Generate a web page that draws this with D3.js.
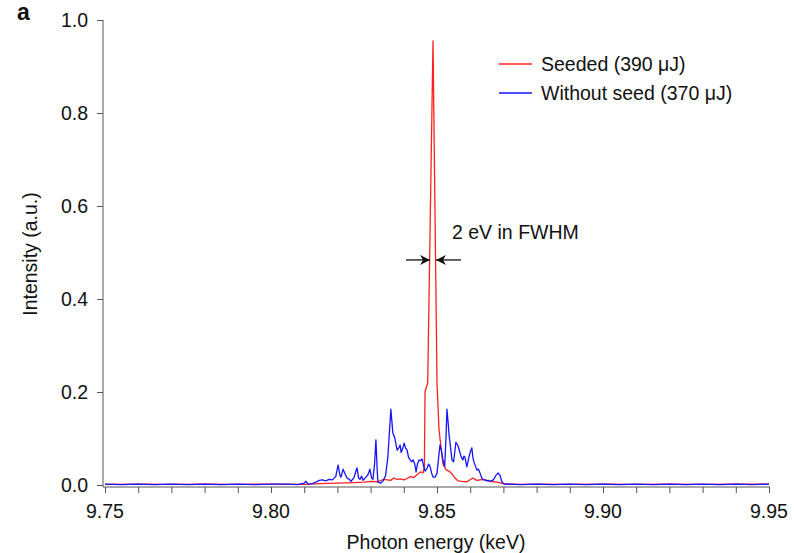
<!DOCTYPE html>
<html>
<head>
<meta charset="utf-8">
<script src="https://cdn.jsdelivr.net/npm/d3@7"></script>
<style>
  body { margin: 0; background: #fff; }
  text { font-family: "Liberation Sans", Arial, sans-serif; }
</style>
</head>
<body>
<div id="chart"></div>
<script>
// spectra: [photon energy keV, intensity a.u.]
const blue = [
  [9.750,0.002],[9.755,0.001],[9.760,0.002],[9.765,0.001],[9.770,0.002],[9.775,0.001],
  [9.780,0.002],[9.785,0.001],[9.790,0.002],[9.795,0.001],[9.800,0.002],[9.805,0.002],
  [9.808,0.001],[9.8100,0.004],[9.8105,0.008],[9.8112,0.002],[9.8125,0.003],[9.8135,0.006],
  [9.8145,0.010],[9.8155,0.011],[9.8165,0.009],[9.8175,0.012],[9.8185,0.011],[9.8195,0.018],
  [9.8202,0.043],[9.8208,0.020],[9.8211,0.017],[9.8217,0.034],[9.8223,0.024],[9.8229,0.015],
  [9.8236,0.012],[9.8241,0.008],[9.8250,0.016],[9.8259,0.037],[9.8264,0.015],[9.8268,0.012],
  [9.8273,0.019],[9.8277,0.010],[9.8282,0.014],[9.8286,0.017],[9.8292,0.022],[9.8298,0.034],
  [9.8303,0.015],[9.8307,0.012],[9.8312,0.045],[9.8316,0.097],[9.8320,0.030],[9.8322,0.006],
  [9.8330,0.004],[9.8337,0.008],[9.8345,0.020],[9.8352,0.060],[9.8361,0.163],[9.8367,0.112],
  [9.8373,0.101],[9.8377,0.085],[9.8380,0.075],[9.8385,0.080],[9.8389,0.086],[9.8392,0.070],
  [9.8395,0.075],[9.8398,0.082],[9.8401,0.090],[9.8405,0.080],[9.8410,0.075],[9.8414,0.060],
  [9.8419,0.054],[9.8424,0.050],[9.8428,0.054],[9.8433,0.045],[9.8437,0.028],[9.8441,0.045],
  [9.8446,0.054],[9.8450,0.052],[9.8455,0.056],[9.8460,0.040],[9.8464,0.030],[9.8470,0.036],
  [9.8475,0.045],[9.8479,0.040],[9.8484,0.025],[9.8488,0.017],[9.8494,0.017],[9.8500,0.025],
  [9.8505,0.060],[9.8509,0.086],[9.8513,0.075],[9.8518,0.054],[9.8523,0.040],[9.8527,0.100],
  [9.8530,0.163],[9.8534,0.130],[9.8536,0.110],[9.8541,0.080],[9.8545,0.054],[9.8550,0.050],
  [9.8557,0.092],[9.8563,0.085],[9.8569,0.070],[9.8573,0.060],[9.8578,0.054],[9.8581,0.062],
  [9.8584,0.060],[9.8590,0.039],[9.8596,0.060],[9.8600,0.070],[9.8605,0.080],[9.8608,0.060],
  [9.8611,0.050],[9.8616,0.040],[9.8620,0.032],[9.8625,0.034],[9.8630,0.025],[9.8635,0.015],
  [9.8639,0.011],[9.8645,0.011],[9.8650,0.009],[9.8655,0.010],[9.8660,0.008],[9.8670,0.011],
  [9.8677,0.020],[9.8684,0.026],[9.8690,0.020],[9.8696,0.006],[9.8702,0.002],[9.875,0.001],
  [9.880,0.002],[9.885,0.001],[9.890,0.002],[9.895,0.001],[9.900,0.002],[9.905,0.001],
  [9.910,0.002],[9.915,0.001],[9.920,0.002],[9.925,0.001],[9.930,0.002],[9.935,0.001],
  [9.940,0.002],[9.945,0.001],[9.950,0.002]
]
const red = [
  [9.750,0.0015],[9.760,0.002],[9.770,0.0015],[9.780,0.002],[9.790,0.0015],[9.800,0.002],
  [9.810,0.0015],[9.8150,0.003],[9.8200,0.004],[9.8250,0.005],[9.8280,0.006],[9.8300,0.008],
  [9.8320,0.007],[9.8340,0.012],[9.8360,0.010],[9.8370,0.015],[9.8380,0.012],[9.8390,0.013],
  [9.8400,0.011],[9.8410,0.014],[9.8420,0.018],[9.8430,0.016],[9.8440,0.022],[9.8450,0.028],
  [9.8458,0.026],[9.8462,0.040],[9.8464,0.200],[9.8470,0.215],[9.8472,0.220],[9.8488,0.955],
  [9.8500,0.220],[9.8506,0.120],[9.8509,0.100],[9.8518,0.045],[9.8527,0.033],[9.8536,0.030],
  [9.8545,0.024],[9.8554,0.015],[9.8563,0.009],[9.8575,0.008],[9.8590,0.007],[9.8608,0.015],
  [9.8620,0.010],[9.8640,0.012],[9.8660,0.008],[9.8680,0.006],[9.8700,0.003],[9.875,0.0015],
  [9.880,0.002],[9.890,0.0015],[9.900,0.002],[9.910,0.0015],[9.920,0.002],[9.930,0.0015],
  [9.940,0.002],[9.950,0.0015]
]
const xTicks = [9.75, 9.80, 9.85, 9.90, 9.95]
const xMinor = d3.range(9.75, 9.9501, 0.01)
const yTicks = [0, 0.2, 0.4, 0.6, 0.8, 1.0]
const series = [
  {name:"Seeded (390 \u03BCJ)", data:red, color:"#ff1f1f"},
  {name:"Without seed (370 \u03BCJ)", data:blue, color:"#1515ff"}
]

const W = 794, H = 553
const x = d3.scaleLinear().domain([9.75, 9.95]).range([105, 769])
const y = d3.scaleLinear().domain([0, 1]).range([485, 20])
const axisColor = "#555"

const svg = d3.select("#chart").append("svg")
  .attr("width", W).attr("height", H)

// x axis
const xAxisY = 487
const gx = svg.append("g").attr("transform", "translate(0," + xAxisY + ")")
gx.call(d3.axisBottom(x).tickValues(xMinor).tickSize(6).tickFormat(''))
gx.select(".domain").remove()
gx.append("line").attr("x1", 103).attr("x2", 770).attr("stroke", axisColor)
gx.selectAll(".tick line").attr("stroke", axisColor)
gx.selectAll(null)
  .data(xTicks)
  .enter()
  .append("text")
  .attr("x", d => x(d))
  .attr("y", 31)
  .attr("text-anchor", "middle")
  .style("font-size", "19.5px")
  .attr("fill", "#111")
  .text(d => d.toFixed(2))

// y axis
const gy = svg.append("g").attr("transform", "translate(103,0)")
gy.call(d3.axisLeft(y).tickValues(yTicks).tickSize(6).tickFormat(''))
gy.select(".domain").remove()
gy.append("line").attr("y1", 20).attr("y2", xAxisY).attr("stroke", axisColor)
gy.selectAll(".tick line").attr("stroke", axisColor)
gy.selectAll(null)
  .data(yTicks)
  .enter()
  .append("text")
  .attr("x", -15)
  .attr("y", d => y(d))
  .attr("dy", "0.36em")
  .attr("text-anchor", "end")
  .style("font-size", "19.5px")
  .attr("fill", "#111")
  .text(d => d.toFixed(1))

// axis titles
svg.append("text")
  .attr("x", 436).attr("y", 549)
  .attr("text-anchor", "middle")
  .style("font-size", "19.5px")
  .attr("fill", "#111")
  .text("Photon energy (keV)")
svg.append("text")
  .attr("transform", "translate(37,254) rotate(-90)")
  .attr("text-anchor", "middle")
  .style("font-size", "19.5px")
  .attr("fill", "#111")
  .text("Intensity (a.u.)")
svg.append("text")
  .attr("x", 17).attr("y", 20)
  .style("font-size", "23px")
  .style("font-weight", "bold")
  .attr("fill", "#111")
  .text("a")

// spectra, blue on top as in the figure
const line = d3.line().x(d => x(d[0])).y(d => y(d[1]))
svg.selectAll(null)
  .data([series[0], series[1]])
  .enter()
  .append("path")
  .attr("d", d => line(d.data))
  .attr("fill", "none")
  .attr("stroke", d => d.color)
  .attr("stroke-width", 1.3)
  .attr("stroke-linejoin", "round")

// FWHM arrows
const defs = svg.append("defs")
defs.append("marker")
  .attr("id", "head")
  .attr("viewBox", "0 0 10 10")
  .attr("refX", 10).attr("refY", 5)
  .attr("markerWidth", 10).attr("markerHeight", 10)
  .attr("markerUnits", "userSpaceOnUse")
  .attr("orient", "auto")
  .append("path")
  .attr("d", "M0,0 L10,5 L0,10 L3,5 Z")
  .attr("fill", "#111")
const arrowY = y(0.484)
svg.append("line")
  .attr("x1", 406).attr("x2", 430)
  .attr("y1", arrowY).attr("y2", arrowY)
  .attr("stroke", "#111").attr("stroke-width", 1.3)
  .attr("marker-end", "url(#head)")
svg.append("line")
  .attr("x1", 461).attr("x2", 436)
  .attr("y1", arrowY).attr("y2", arrowY)
  .attr("stroke", "#111").attr("stroke-width", 1.3)
  .attr("marker-end", "url(#head)")
svg.append("text")
  .attr("x", 452).attr("y", 239)
  .style("font-size", "19.5px")
  .attr("fill", "#111")
  .text("2 eV in FWHM")

// legend
const leg = svg.selectAll(".leg")
  .data(series)
  .enter()
  .append("g")
  .attr("transform", (d, i) => "translate(499," + (64 + i * 29) + ")")
leg.append("line")
  .attr("x1", 0).attr("x2", 33)
  .attr("stroke", d => d.color).attr("stroke-width", 1.3)
leg.append("text")
  .attr("x", 42).attr("y", 0)
  .attr("dy", "0.36em")
  .style("font-size", "19.5px")
  .attr("fill", "#111")
  .text(d => d.name)
</script>
</body>
</html>
